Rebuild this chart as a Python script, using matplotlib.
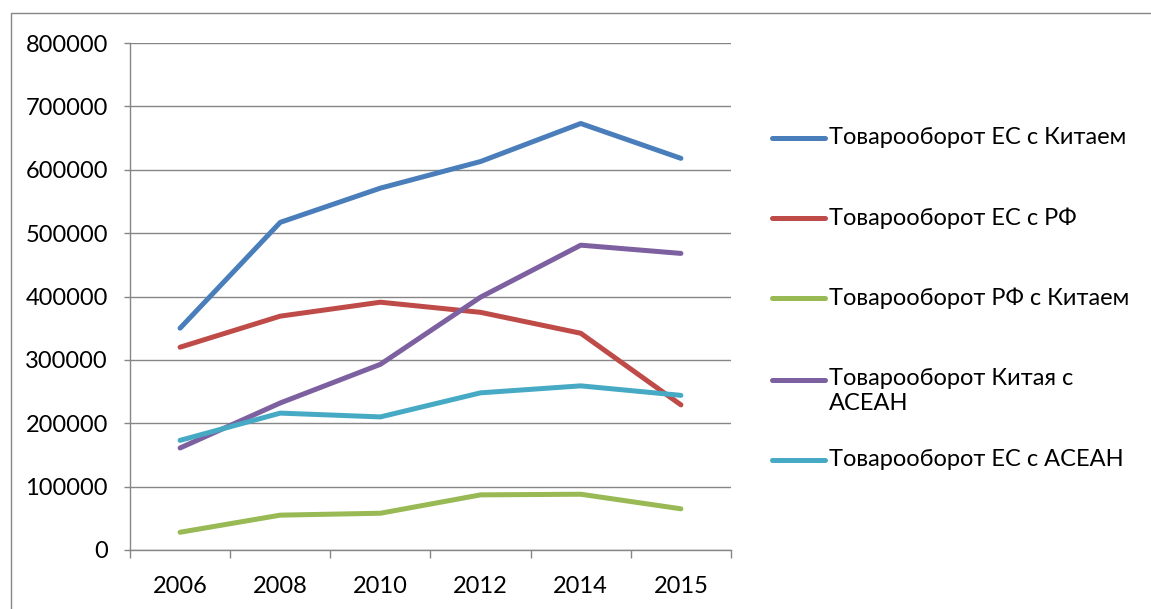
import matplotlib.pyplot as plt
from matplotlib.lines import Line2D
from matplotlib.patches import Rectangle

years = ["2006", "2008", "2010", "2012", "2014", "2015"]
eu_china = [350000, 517000, 571000, 613000, 673000, 618000]
eu_rf = [320000, 369000, 391000, 375000, 342000, 229000]
rf_china = [28000, 55000, 58000, 87000, 88000, 65000]
china_asean = [161000, 232000, 293000, 399000, 481000, 468000]
eu_asean = [173000, 216000, 210000, 248000, 259000, 244000]

labels = ["Товарооборот ЕС с Китаем", "Товарооборот ЕС с РФ", "Товарооборот РФ с Китаем",
          "Товарооборот Китая с\nАСЕАН", "Товарооборот ЕС с АСЕАН"]
colors = ["#4A7EBB", "#BE4B48", "#98B954", "#7D60A0", "#46AAC5"]
series = [eu_china, eu_rf, rf_china, china_asean, eu_asean]

plt.rcParams['font.family'] = ['Lato', 'DejaVu Sans']
W, H = 1151, 609
fig = plt.figure(figsize=(W / 100, H / 100), dpi=100)
ax = fig.add_axes([130 / W, 1 - 550 / H, 601 / W, 507 / H])

x = list(range(len(years)))
for vals, c in zip(series, colors):
    ax.plot(x, vals, color=c, lw=3.6, solid_capstyle='round', solid_joinstyle='round', zorder=3)

ax.set_xlim(-0.5, len(years) - 0.5)
ax.set_ylim(0, 800000)
ax.set_yticks(range(0, 800001, 100000))
ax.set_yticklabels([str(v) for v in range(0, 800001, 100000)], fontsize=17)
ax.set_xticks(x)
ax.set_xticklabels(years, fontsize=17)
ax.set_xticks([i - 0.5 for i in range(len(years) + 1)], minor=True)
ax.tick_params(axis='x', which='major', length=0, pad=19)
ax.tick_params(axis='x', which='minor', length=6, color='#868686', width=1)
ax.tick_params(axis='y', length=4, color='#868686', width=1, pad=12)
ax.grid(axis='y', color='#868686', lw=1, zorder=0)
for s in ['top', 'right']:
    ax.spines[s].set_visible(False)
for s in ['left', 'bottom']:
    ax.spines[s].set_color('#868686')
    ax.spines[s].set_linewidth(1)

# legend drawn by hand so the handle lines up with the first text line (like Excel)
leg_y = [138, 218, 298, 380, 460]
for lab, c, yy in zip(labels, colors, leg_y):
    fy = 1 - yy / H
    fig.add_artist(Line2D([772 / W, 825 / W], [fy, fy], color=c, lw=3.6, solid_capstyle='round'))
    if '\n' in lab:
        fig.text(829 / W, fy + 12 / H, lab, fontsize=17, va='top', linespacing=1.25)
    else:
        fig.text(829 / W, fy, lab, fontsize=17, va='center')

# outer chart frame (only top and left edges visible in the crop)
fig.add_artist(Rectangle((11 / W, -0.1), 1.2, 1 - 13 / H + 0.1, transform=fig.transFigure,
                         fill=False, edgecolor='#868686', lw=1))

fig.savefig("out.png", dpi=100)
